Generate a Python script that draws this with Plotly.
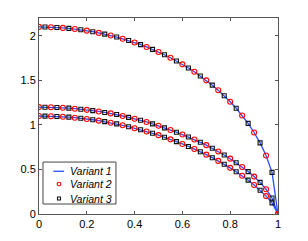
import plotly.graph_objects as go

# sample positions (every 0.025)
x = [0.000, 0.025, 0.050, 0.075, 0.100, 0.125, 0.150, 0.175, 0.200, 0.225,
     0.250, 0.275, 0.300, 0.325, 0.350, 0.375, 0.400, 0.425, 0.450, 0.475,
     0.500, 0.525, 0.550, 0.575, 0.600, 0.625, 0.650, 0.675, 0.700, 0.725,
     0.750, 0.775, 0.800, 0.825, 0.850, 0.875, 0.900, 0.925, 0.950, 0.975, 1.000]

# upper curve
y_top = [2.100, 2.099, 2.097, 2.094, 2.089, 2.084, 2.076, 2.068, 2.058, 2.046,
         2.033, 2.019, 2.003, 1.986, 1.967, 1.947, 1.925, 1.901, 1.875, 1.848,
         1.819, 1.787, 1.754, 1.718, 1.680, 1.639, 1.596, 1.549, 1.500, 1.446,
         1.389, 1.327, 1.260, 1.187, 1.106, 1.017, 0.915, 0.798, 0.656, 0.467, 0.000]

# middle curve
y_mid = [1.200, 1.199, 1.198, 1.196, 1.192, 1.188, 1.182, 1.176, 1.169, 1.160,
         1.151, 1.140, 1.129, 1.116, 1.100, 1.085, 1.069, 1.052, 1.033, 1.012,
         0.990, 0.967, 0.943, 0.918, 0.892, 0.865, 0.836, 0.805, 0.773, 0.738,
         0.701, 0.662, 0.621, 0.576, 0.528, 0.476, 0.420, 0.355, 0.278, 0.180, 0.000]

# lower curve
y_low = [1.100, 1.099, 1.098, 1.095, 1.092, 1.087, 1.081, 1.075, 1.067, 1.058,
         1.048, 1.037, 1.025, 1.012, 0.996, 0.980, 0.963, 0.945, 0.926, 0.906,
         0.885, 0.862, 0.838, 0.812, 0.786, 0.758, 0.729, 0.698, 0.666, 0.632,
         0.596, 0.558, 0.518, 0.475, 0.429, 0.380, 0.326, 0.266, 0.201, 0.125, 0.000]

curves = [y_top, y_mid, y_low]
series_names = ["Variant 1", "Variant 2", "Variant 3"]

x_ticks = [0, 0.2, 0.4, 0.6, 0.8, 1]
x_tick_text = ["0", "0.2", "0.4", "0.6", "0.8", "1"]
y_ticks = [0, 0.5, 1, 1.5, 2]
y_tick_text = ["0", "0.5", "1", "1.5", "2"]

BLUE = "#2a4dff"
RED = "#ff0000"
BLACK = "#111111"
FONT = "Liberation Sans, Arial, sans-serif"

fig = go.Figure()

# Variant 1: solid blue lines
for i, yc in enumerate(curves):
    fig.add_trace(go.Scatter(
        x=x, y=yc, mode="lines", name=series_names[0], showlegend=False,
        line=dict(color=BLUE, width=1.3)))

# Variant 2: red circles at even samples
for i, yc in enumerate(curves):
    fig.add_trace(go.Scatter(
        x=x[0::2], y=yc[0::2], mode="markers", name=series_names[1], showlegend=False,
        marker=dict(symbol="circle-open", size=5, color=RED,
                    line=dict(width=1.1, color=RED))))

# Variant 3: black squares at odd samples
for i, yc in enumerate(curves):
    fig.add_trace(go.Scatter(
        x=x[1::2], y=yc[1::2], mode="markers", name=series_names[2], showlegend=False,
        marker=dict(symbol="square-open", size=4, color=BLACK,
                    line=dict(width=1.1, color=BLACK))))

axis_common = dict(
    showline=True, linecolor="#555555", linewidth=1, mirror="ticks",
    ticks="inside", ticklen=3, tickcolor="#555555", tickwidth=1,
    showgrid=False, zeroline=False, automargin=False,
    tickfont=dict(family=FONT, size=11, color="#000000"),
)

fig.update_xaxes(range=[0, 1], tickvals=x_ticks, ticktext=x_tick_text, **axis_common)
fig.update_yaxes(range=[0, 2.2], tickvals=y_ticks, ticktext=y_tick_text, **axis_common)

# compact MATLAB-style legend box (in plot-area fractions)
leg_rows = [0.218, 0.153, 0.079]
key_x = 0.0837
shapes = [
    dict(type="rect", xref="x domain", yref="y domain", x0=0.0167, x1=0.322,
         y0=0.051, y1=0.265, line=dict(color="#444444", width=1), fillcolor="white",
         layer="above"),
    dict(type="line", xref="x domain", yref="y domain", x0=0.060, x1=0.105,
         y0=leg_rows[0], y1=leg_rows[0], line=dict(color=BLUE, width=1.3), layer="above"),
    dict(type="circle", xref="x domain", yref="y domain", xsizemode="pixel",
         ysizemode="pixel", xanchor=key_x, yanchor=leg_rows[1], x0=-1.8, x1=1.8,
         y0=-1.8, y1=1.8, line=dict(color=RED, width=1.1), layer="above"),
    dict(type="rect", xref="x domain", yref="y domain", xsizemode="pixel",
         ysizemode="pixel", xanchor=key_x, yanchor=leg_rows[2], x0=-1.5, x1=1.5,
         y0=-1.5, y1=1.5, line=dict(color=BLACK, width=1.1), layer="above"),
]
annotations = [
    dict(text=name, xref="x domain", yref="y domain", x=0.121, y=yy,
         xanchor="left", yanchor="middle", showarrow=False,
         font=dict(family=FONT, size=10.5, color="#000000", style="italic"))
    for name, yy in zip(series_names, leg_rows)
]

fig.update_layout(
    width=308, height=241,
    margin=dict(l=39, r=30, t=18, b=27),
    plot_bgcolor="white", paper_bgcolor="white",
    showlegend=False,
    shapes=shapes, annotations=annotations,
)

fig.write_html("out.html", config={"displayModeBar": False},
               post_script="document.body.style.margin='0';")
